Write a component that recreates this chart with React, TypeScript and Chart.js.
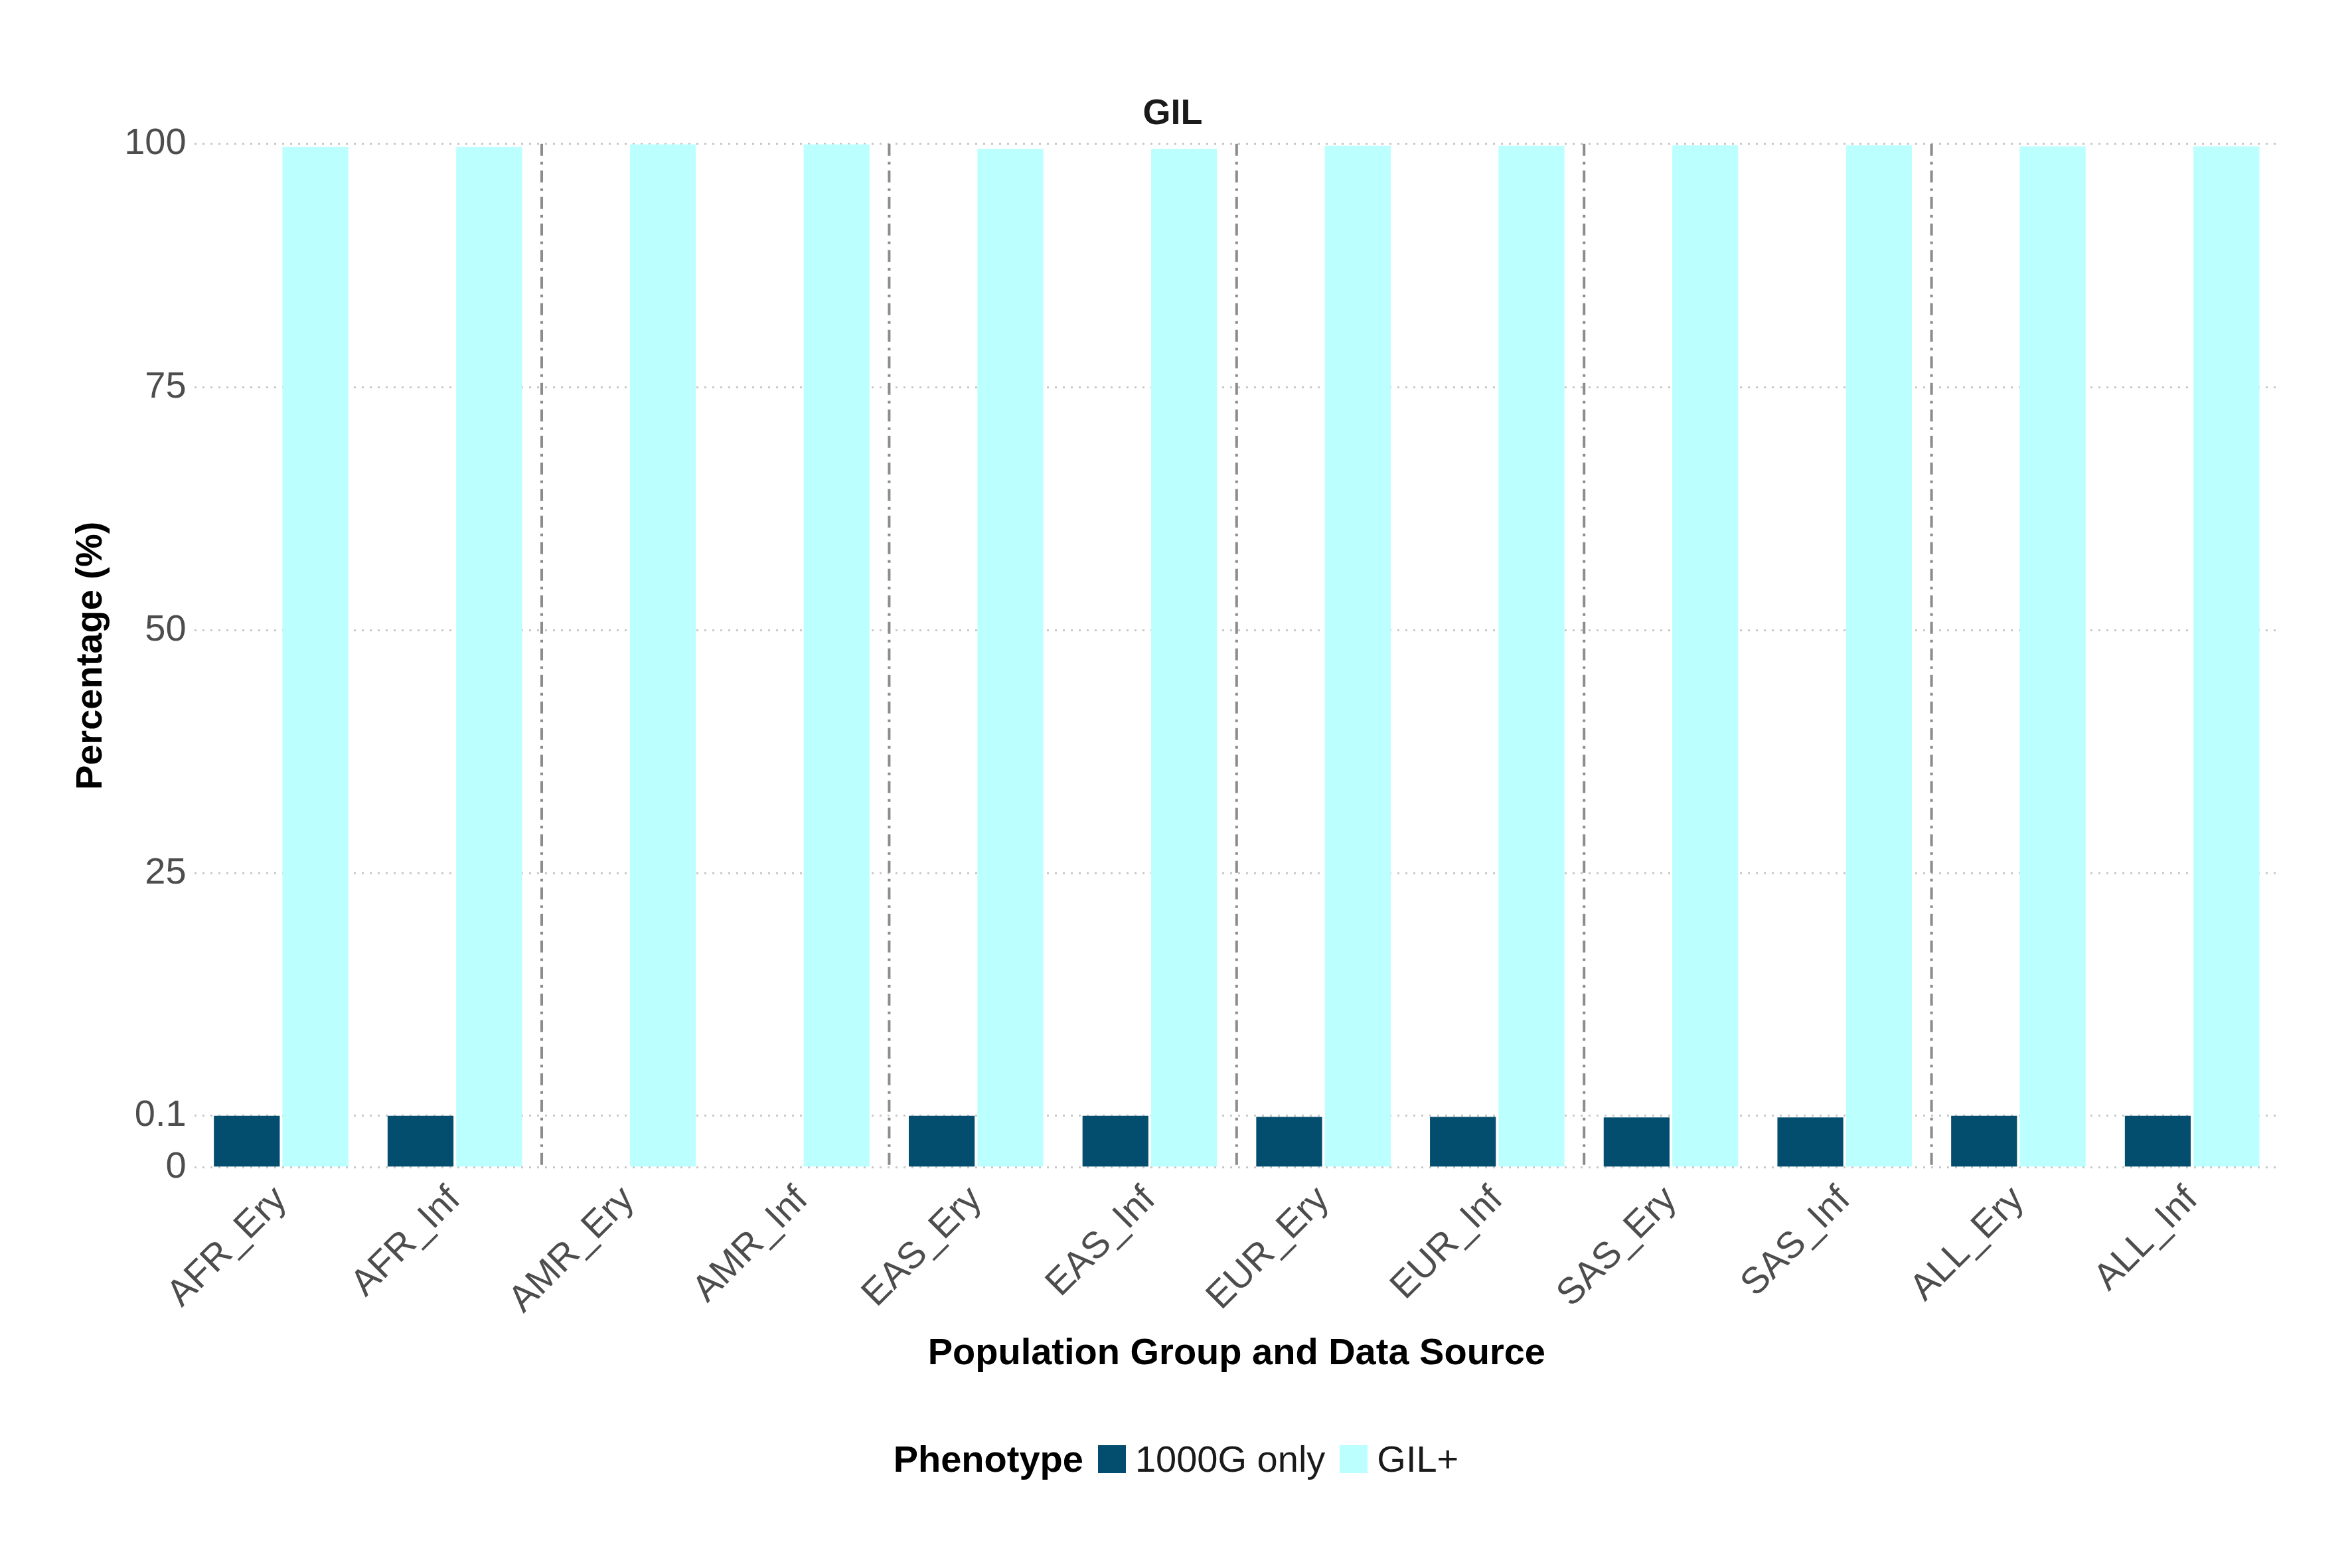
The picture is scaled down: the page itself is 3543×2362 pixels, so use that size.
import { useEffect, useRef } from 'react';
import { Chart, registerables } from 'chart.js';

Chart.register(...registerables);

const categories = ['AFR_Ery', 'AFR_Inf', 'AMR_Ery', 'AMR_Inf', 'EAS_Ery', 'EAS_Inf', 'EUR_Ery', 'EUR_Inf', 'SAS_Ery', 'SAS_Inf', 'ALL_Ery', 'ALL_Inf'];
const only1000G = [0.1, 0.1, 0, 0, 0.11, 0.11, 0.098, 0.098, 0.097, 0.097, 0.1, 0.1];
const gilPlus = [99.7, 99.7, 99.95, 99.95, 99.5, 99.5, 99.8, 99.8, 99.85, 99.85, 99.75, 99.75];
const tickValues = [0, 0.1, 25, 50, 75, 100];

// piecewise axis transform: 0..0.1 stretched, then linear
const tf = (v: number) => (v <= 0.1 ? v * 2.13 : 0.213 + (v - 0.1) / 25);

const F = '"Liberation Sans", Arial, sans-serif';

const separators = {
  id: 'separators',
  beforeDatasetsDraw(chart: any) {
    const { ctx, chartArea, scales } = chart;
    const x = scales.x;
    ctx.save();
    ctx.strokeStyle = '#8c8c8c';
    ctx.lineWidth = 4;
    ctx.setLineDash([18, 9, 4, 9]);
    for (let i = 2; i < categories.length; i += 2) {
      const px = (x.getPixelForValue(i - 1) + x.getPixelForValue(i)) / 2;
      ctx.beginPath();
      ctx.moveTo(px, chartArea.top);
      ctx.lineTo(px, chartArea.bottom);
      ctx.stroke();
    }
    ctx.restore();
  },
};

export default function App() {
  const canvasRef = useRef<HTMLCanvasElement>(null);

  useEffect(() => {
    document.body.style.margin = '0';
    if (!canvasRef.current) return;
    const chart = new Chart(canvasRef.current, {
      type: 'bar',
      data: {
        labels: categories,
        datasets: [
          { label: '1000G only', data: only1000G.map(tf), backgroundColor: '#034e6e', barPercentage: 0.96, categoryPercentage: 0.79 },
          { label: 'GIL+', data: gilPlus.map(tf), backgroundColor: '#bbffff', barPercentage: 0.96, categoryPercentage: 0.79 },
        ],
      },
      options: {
        animation: false,
        responsive: false,
        layout: { padding: { top: 40, right: 110, bottom: 285, left: 100 } },
        plugins: {
          legend: { display: false },
          tooltip: { enabled: false },
          title: { display: true, text: 'GIL', color: '#1a1a1a', font: { family: F, size: 54, weight: 'bold' }, padding: { top: 100, bottom: 12 } },
        },
        scales: {
          x: {
            grid: { display: false },
            border: { display: false },
            ticks: { color: '#4d4d4d', font: { family: F, size: 56 }, maxRotation: 45, minRotation: 45, padding: 8 },
            title: { display: true, text: 'Population Group and Data Source', color: '#000', font: { family: F, size: 56, weight: 'bold' }, padding: { top: 6 } },
          },
          y: {
            min: 0,
            max: tf(100),
            afterBuildTicks: (axis: any) => {
              axis.ticks = tickValues.map((v) => ({ value: tf(v), label: String(v) }));
            },
            ticks: {
              color: '#4d4d4d',
              font: { family: F, size: 56 },
              padding: 12,
              callback: (_v: any, i: number) => String(tickValues[i]),
            },
            grid: { color: '#c8c8c8', lineWidth: 3, drawTicks: false },
            border: { display: false, dash: [3, 9] },
            title: { display: true, text: 'Percentage (%)', color: '#000', font: { family: F, size: 56, weight: 'bold' } },
          },
        },
      },
      plugins: [separators],
    });
    (chart.options.scales as any).y.border.dash = [3, 9];
    chart.update();
    return () => chart.destroy();
  }, []);

  const sw = (c: string) => <span style={{ display: 'inline-block', width: 42, height: 42, background: c, margin: '0 14px 0 22px' }} />;

  return (
    <div style={{ position: 'relative', width: 3543, height: 2362, background: '#fff' }}>
      <canvas ref={canvasRef} width={3543} height={2362} />
      <div style={{ position: 'absolute', top: 2165, left: 0, width: 3543, display: 'flex', justifyContent: 'center', alignItems: 'center', fontFamily: F, fontSize: 56, color: '#1a1a1a' }}>
        <b style={{ color: '#000' }}>Phenotype</b>
        {sw('#034e6e')}1000G only{sw('#bbffff')}GIL+
      </div>
    </div>
  );
}
